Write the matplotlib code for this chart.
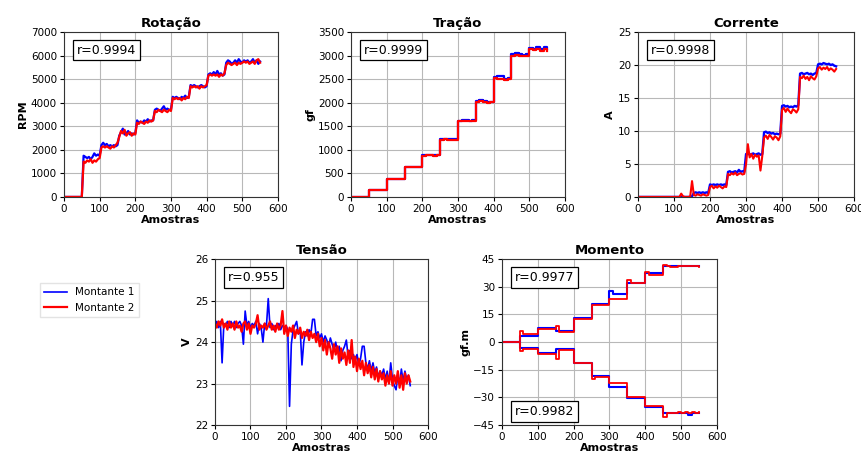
import numpy as np
import matplotlib
matplotlib.use("Agg")
import matplotlib.pyplot as plt

# amostras a cada 5 (series ruidosas) e a cada 10 (series em degrau)
x5 = np.arange(0, 551, 5)
x10 = np.arange(0, 551, 10)

# Rotacao (RPM), passo 5
rot_m1 = [0]*11 + [
    1750, 1700, 1650, 1700, 1600, 1700, 1850, 1750, 1800, 1750,
    2200, 2300, 2200, 2250, 2150, 2200, 2150, 2200, 2150, 2200,
    2600, 2750, 2900, 2650, 2700, 2800, 2650, 2700, 2650, 2700,
    3250, 3150, 3200, 3150, 3250, 3200, 3300, 3200, 3250, 3250,
    3700, 3750, 3700, 3650, 3750, 3850, 3700, 3750, 3700, 3700,
    4250, 4200, 4250, 4200, 4150, 4250, 4200, 4300, 4200, 4250,
    4750, 4700, 4750, 4700, 4650, 4700, 4750, 4700, 4650, 4700,
    5200, 5250, 5200, 5300, 5200, 5350, 5200, 5250, 5150, 5200,
    5700, 5800, 5750, 5650, 5700, 5800, 5700, 5850, 5750, 5700,
    5800, 5750, 5800, 5700, 5750, 5850, 5700, 5800, 5650, 5750]
rot_m2 = [0]*11 + [
    1500, 1450, 1550, 1500, 1600, 1450, 1550, 1500, 1600, 1650,
    2100, 2150, 2100, 2150, 2100, 2050, 2150, 2100, 2200, 2300,
    2550, 2800, 2700, 2850, 2600, 2700, 2750, 2600, 2700, 2650,
    3150, 3100, 3200, 3150, 3100, 3200, 3150, 3250, 3200, 3250,
    3650, 3600, 3700, 3650, 3600, 3700, 3650, 3600, 3700, 3650,
    4200, 4150, 4200, 4150, 4200, 4100, 4200, 4150, 4250, 4200,
    4700, 4650, 4700, 4650, 4700, 4600, 4700, 4650, 4700, 4750,
    5150, 5200, 5150, 5200, 5150, 5200, 5100, 5200, 5150, 5250,
    5600, 5700, 5650, 5600, 5650, 5700, 5600, 5700, 5650, 5700,
    5750, 5700, 5750, 5650, 5700, 5750, 5650, 5800, 5850, 5700]

# Tracao (gf), passo 10
tra_m1 = [0, 0, 0, 0, 0,
          150, 155, 150, 150, 155,
          380, 380, 385, 380, 380,
          630, 640, 635, 630, 630,
          880, 885, 880, 880, 885,
          1230, 1240, 1230, 1220, 1230,
          1620, 1630, 1625, 1620, 1630,
          2030, 2050, 2030, 2010, 2020,
          2540, 2560, 2560, 2510, 2520,
          3030, 3050, 3040, 3010, 3040,
          3170, 3150, 3180, 3140, 3190, 3130]
tra_m2 = [0, 0, 0, 0, 0,
          150, 150, 150, 150, 150,
          375, 380, 380, 375, 380,
          625, 630, 630, 625, 630,
          875, 880, 880, 875, 880,
          1210, 1220, 1215, 1210, 1215,
          1610, 1620, 1615, 1610, 1620,
          2020, 2030, 2020, 2000, 2010,
          2520, 2500, 2510, 2490, 2500,
          3000, 3010, 2990, 2990, 3000,
          3150, 3120, 3140, 3090, 3130, 3100]

# Corrente (A), passo 5
cor_m1 = [0]*30 + [
    0.1, 0.6, 0.7, 0.6, 0.7, 0.6, 0.7, 0.6, 0.7, 0.6,
    1.9, 1.8, 1.9, 1.8, 1.9, 1.8, 1.9, 1.8, 1.9, 1.8,
    3.8, 3.9, 3.7, 3.8, 3.9, 3.7, 4.1, 3.8, 3.9, 3.8,
    6.5, 6.6, 6.4, 6.5, 6.6, 6.4, 6.5, 6.6, 6.4, 6.5,
    9.8, 9.9, 9.7, 9.8, 9.6, 9.7, 9.5, 9.6, 9.5, 9.6,
    13.8, 13.9, 13.7, 13.8, 13.6, 13.7, 13.6, 13.8, 13.7, 13.9,
    18.7, 18.8, 18.6, 18.7, 18.8, 18.6, 18.7, 18.5, 18.7, 18.8,
    20.1, 20.2, 20.1, 20.3, 20.2, 20.1, 20.2, 20.0, 20.1, 19.9, 19.8]
cor_m2 = [0]*24 + [0.5, 0.1, 0, 0, 0, 0.1,
    2.4, 0.3, 0.2, 0.4, 0.3, 0.2, 0.4, 0.3, 0.2, 0.3,
    1.5, 1.7, 1.3, 1.6, 1.4, 1.7, 1.5, 1.3, 1.6, 1.5,
    3.5, 3.3, 3.6, 3.4, 3.7, 3.3, 3.5, 3.6, 3.4, 3.5,
    5.0, 8.0, 6.0, 6.5, 5.8, 6.4, 6.1, 6.3, 4.0, 6.2,
    9.0, 9.3, 8.8, 9.4, 9.1, 8.7, 9.2, 9.0, 8.6, 9.2,
    13.2, 13.5, 12.9, 13.4, 13.0, 12.7, 13.3, 13.1, 12.8, 13.3,
    18.2, 18.0, 18.4, 17.9, 18.2, 17.7, 18.3, 18.0, 17.8, 18.3,
    19.5, 19.7, 19.3, 19.6, 19.4, 19.7, 19.2, 19.5, 19.3, 19.0, 19.4]

# Tensao (V), passo 5
ten_m1 = [
    24.4, 24.5, 24.35, 24.5, 23.5, 24.45, 24.4, 24.5, 24.35, 24.5,
    24.4, 24.5, 24.35, 24.45, 24.5, 24.4, 23.95, 24.75, 24.4, 24.5,
    24.35, 24.45, 24.4, 24.5, 24.2, 24.45, 24.35, 24.0, 24.45, 24.4,
    25.05, 24.35, 24.45, 24.3, 24.4, 24.35, 24.45, 24.3, 24.4, 24.35,
    24.4, 24.3, 22.45, 23.95, 24.3, 24.4, 24.5, 24.2, 24.3, 23.45,
    24.0, 24.25, 24.15, 24.3, 24.2, 24.55, 24.55, 24.15, 24.25, 24.1,
    24.2, 24.0, 24.15, 24.05, 23.9, 24.1, 23.95, 23.8, 24.0, 23.75,
    23.9, 23.55, 23.8, 23.9, 24.05, 23.65, 23.8, 23.6, 23.7, 23.55,
    23.7, 23.45, 23.6, 23.9, 23.9, 23.5, 23.35, 23.55, 23.3, 23.5,
    23.25, 23.4, 23.15, 23.3, 23.2, 23.35, 23.1, 23.3, 23.0, 23.5,
    23.1, 22.95, 22.85, 23.2, 23.0, 23.35, 23.05, 23.3, 23.1, 23.2, 22.95]
ten_m2 = [
    24.45, 24.35, 24.5, 24.4, 24.55, 24.35, 24.45, 24.3, 24.5, 24.35,
    24.45, 24.3, 24.5, 24.35, 24.4, 24.25, 24.45, 24.5, 24.3, 24.45,
    24.2, 24.4, 24.35, 24.45, 24.65, 24.3, 24.4, 24.35, 24.45, 24.3,
    24.4, 24.5, 24.3, 24.4, 24.25, 24.45, 24.3, 24.4, 24.75, 24.2,
    24.4, 24.15, 24.35, 24.25, 24.4, 24.1, 24.3, 24.2, 24.35, 24.1,
    24.25, 24.15, 24.3, 24.05, 24.25, 24.1, 24.2, 24.0, 24.2, 23.9,
    24.1, 23.8, 24.05, 23.7, 24.0, 23.85, 23.6, 23.95, 23.7, 23.9,
    23.5, 23.85, 23.6, 23.75, 23.45, 23.8, 23.5, 24.05, 23.4, 23.65,
    23.3, 23.6, 23.35, 23.55, 23.2, 23.5, 23.25, 23.45, 23.15, 23.4,
    23.1, 23.35, 23.05, 23.3, 23.1, 23.25, 22.95, 23.2, 23.0, 23.3,
    22.95, 23.2, 23.0, 23.3, 22.9, 23.2, 22.85, 23.25, 23.0, 23.2, 23.05]

# Momento (gf.m), passo 10 - positivo e negativo
mom_pos_m1 = [0]*5 + [3.5]*5 + [7.5]*5 + [6]*5 + [13]*5 + [20.5]*5 + \
    [27.5, 26, 26, 26, 26] + [32]*5 + [37.5]*5 + [41.5]*11
mom_pos_m2 = [0]*5 + [6, 4.5, 4.5, 4.5, 4.5] + [7]*5 + [9, 5.5, 5.5, 5.5, 5.5] + \
    [12.5]*5 + [20]*5 + [23.5]*5 + [33.5, 32, 32, 32, 32] + \
    [38, 36.5, 36.5, 36.5, 36.5] + [42, 41.5, 41, 41, 41.5, 41.5, 41.5, 41.5, 41.5, 41.5, 41]
mom_neg_m1 = [0]*5 + [-3]*5 + [-6]*5 + [-4]*5 + [-11.5]*5 + [-18.5]*5 + \
    [-24.5]*5 + [-30.5]*5 + [-35]*5 + \
    [-38.5, -38.5, -38.5, -38.5, -38.5, -38.5, -38.5, -39.5, -38.5, -38.5, -38.5]
mom_neg_m2 = [0]*5 + [-5, -4, -4, -4, -4] + [-6.5]*5 + [-9, -4.5, -4.5, -4.5, -4.5] + \
    [-11.5]*5 + [-20, -19, -19, -19, -19] + [-22]*5 + [-30]*5 + [-34.5]*5 + \
    [-40.5, -38.5, -38.5, -38.5, -38, -38.5, -38, -38.5, -38, -38.5, -38]

azul = "#0000ff"
verm = "#ff0000"

plt.rcParams["font.family"] = "DejaVu Sans"
fig = plt.figure(figsize=(8.61, 4.58), dpi=100)


def eixo(pos, titulo, ylabel, ylim, yticks):
    ax = fig.add_axes(pos)
    ax.set_title(titulo, fontsize=9.5, fontweight="bold", pad=4)
    ax.set_xlabel("Amostras", fontsize=8, fontweight="bold", labelpad=1)
    ax.set_ylabel(ylabel, fontsize=8, fontweight="bold", labelpad=2)
    ax.set_xlim(0, 600)
    ax.set_xticks(range(0, 601, 100))
    ax.set_ylim(*ylim)
    ax.set_yticks(yticks)
    ax.tick_params(labelsize=7.5, length=3, pad=2)
    ax.grid(True, color="#b8b8b8", linewidth=0.8)
    ax.set_axisbelow(True)
    for s in ax.spines.values():
        s.set_color("#333333")
    return ax


def caixa(ax, texto, y=0.93):
    ax.text(0.06, y, texto, transform=ax.transAxes, fontsize=9, va="top",
            bbox=dict(boxstyle="square,pad=0.3", facecolor="white", edgecolor="black", linewidth=0.9))


# linha de cima
ax1 = eixo([0.0743, 0.570, 0.2485, 0.360], "Rotação", "RPM", (0, 7000), range(0, 7001, 1000))
ax1.plot(x5, rot_m1, color=azul, lw=1.6)
ax1.plot(x5, rot_m2, color=verm, lw=1.6)
caixa(ax1, "r=0.9994")

ax2 = eixo([0.4077, 0.570, 0.2485, 0.360], "Tração", "gf", (0, 3500), range(0, 3501, 500))
ax2.plot(x10, tra_m1, color=azul, lw=1.6, drawstyle="steps-post")
ax2.plot(x10, tra_m2, color=verm, lw=1.6, drawstyle="steps-post")
caixa(ax2, "r=0.9999")

ax3 = eixo([0.741, 0.570, 0.251, 0.360], "Corrente", "A", (0, 25), range(0, 26, 5))
ax3.plot(x5, cor_m1, color=azul, lw=1.7)
ax3.plot(x5, cor_m2, color=verm, lw=1.5)
caixa(ax3, "r=0.9998")

# linha de baixo
ax4 = eixo([0.2497, 0.072, 0.2474, 0.362], "Tensão", "V", (22, 26), range(22, 27))
l1, = ax4.plot(x5, ten_m1, color=azul, lw=1.2)
l2, = ax4.plot(x5, ten_m2, color=verm, lw=1.6)
caixa(ax4, "r=0.955")

ax5 = eixo([0.583, 0.072, 0.2497, 0.362], "Momento", "gf.m", (-45, 45), range(-45, 46, 15))
ax5.plot(x10, mom_pos_m1, color=azul, lw=1.5, drawstyle="steps-post")
ax5.plot(x10, mom_pos_m2, color=verm, lw=1.3, drawstyle="steps-post")
ax5.plot(x10, mom_neg_m1, color=azul, lw=1.5, drawstyle="steps-post")
ax5.plot(x10, mom_neg_m2, color=verm, lw=1.3, drawstyle="steps-post")
caixa(ax5, "r=0.9977")
caixa(ax5, "r=0.9982", y=0.12)

fig.legend([l1, l2], ["Montante 1", "Montante 2"], loc="upper left",
           bbox_to_anchor=(0.040, 1 - 278 / 458), fontsize=7.5, frameon=True,
           fancybox=False, edgecolor="#dddddd", handlelength=2.2, borderpad=0.4)

fig.savefig("out.png", dpi=100)
